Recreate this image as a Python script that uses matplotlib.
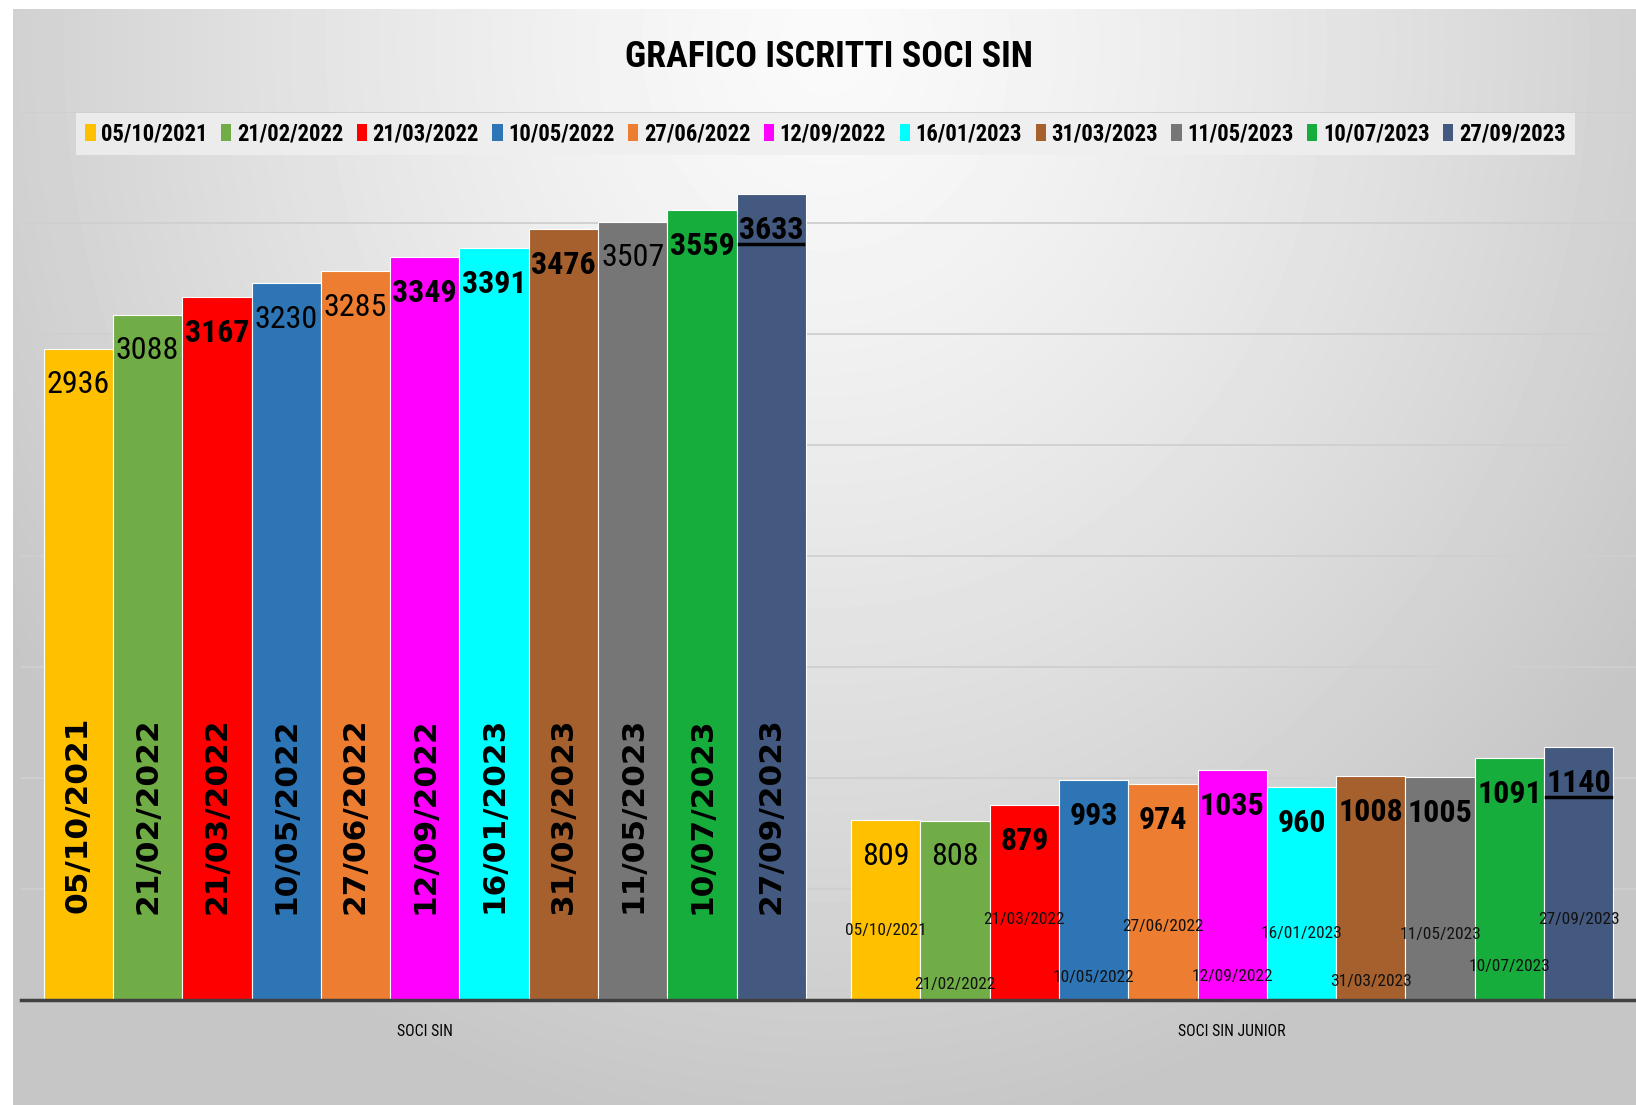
import matplotlib

matplotlib.use("Agg")

import matplotlib.pyplot as plt
import numpy as np
from matplotlib import font_manager
from matplotlib.lines import Line2D
from matplotlib.patches import Patch


OUTPUT_PNG = "out.png"

# data
CATEGORIES = ["SOCI SIN", "SOCI SIN JUNIOR"]
DATES = [
    "05/10/2021", "21/02/2022", "21/03/2022", "10/05/2022", "27/06/2022",
    "12/09/2022", "16/01/2023", "31/03/2023", "11/05/2023", "10/07/2023",
    "27/09/2023",
]
SOCI_SIN = [2936, 3088, 3167, 3230, 3285, 3349, 3391, 3476, 3507, 3559, 3633]
SOCI_SIN_JUNIOR = [809, 808, 879, 993, 974, 1035, 960, 1008, 1005, 1091, 1140]

COLORS = [
    "#FFC000", "#70AD47", "#FF0000", "#2E75B6", "#ED7D31", "#FF00FF",
    "#00FFFF", "#A5602E", "#767676", "#17AD3C", "#44597F",
]

# label styling / layout (not data)
SIN_BOLD = [False, False, True, False, False, True, True, True, False, True, True]
JUNIOR_BOLD = [False, False, True, True, True, True, True, True, True, True, True]
JUNIOR_DATE_RISE_PT = [50, 11, 58, 16, 53, 17, 48, 13, 47, 24, 58]

installed = {f.name for f in font_manager.fontManager.ttflist}
NARROW_NAME = next(
    (n for n in ["Liberation Sans Narrow", "Roboto Condensed", "Open Sans Condensed",
                 "Roboto", "Liberation Sans"] if n in installed),
    "DejaVu Sans",
)
NARROW = [NARROW_NAME, "DejaVu Sans"]
WIDE_BOLD = ["DejaVu Sans"]
is_condensed = "Narrow" in NARROW_NAME or "Condensed" in NARROW_NAME
SCALE = 1.0 if is_condensed else 0.8


def draw_background(fig):
    bg = fig.add_axes([13 / 1636, 0, 1 - 13 / 1636, 1 - 9 / 1105], zorder=-10)
    h, w = 300, 450
    yy, xx = np.mgrid[0:h, 0:w]
    r = np.sqrt(((xx - 0.5 * w) / (0.6 * w)) ** 2 + ((yy - 0.03 * h) / (1.0 * h)) ** 2)
    shade = 250 - 52 * np.clip(r, 0, 1) ** 1.3
    bg.imshow(shade, cmap="gray", vmin=0, vmax=255, aspect="auto",
              interpolation="bilinear")
    bg.axis("off")


def main():
    fig = plt.figure(figsize=(16.36, 11.05), dpi=100)
    fig.patch.set_facecolor("white")
    draw_background(fig)

    ax = fig.add_axes([21 / 1636, 105 / 1105, 1 - 21 / 1636, (1000 - 112.4) / 1105])
    ax.patch.set_alpha(0)

    n = len(DATES)
    width = 0.944 / n
    group_values = [SOCI_SIN, SOCI_SIN_JUNIOR]
    underlined = []

    for i, (date, color) in enumerate(zip(DATES, COLORS)):
        xs = np.arange(len(CATEGORIES)) + (i - (n - 1) / 2) * width
        vals = [g[i] for g in group_values]
        ax.bar(xs, vals, width=width, color=color, edgecolor="white",
               linewidth=0.8, label=date, zorder=3)

        # value labels, inside end
        for j, (x, v) in enumerate(zip(xs, vals)):
            bold = SIN_BOLD[i] if j == 0 else JUNIOR_BOLD[i]
            t = ax.annotate(str(v), (x, v), xytext=(0, -26), textcoords="offset points",
                            ha="center", va="center", fontsize=23 * SCALE,
                            fontweight="bold" if bold else "normal",
                            family=NARROW, color="black", zorder=5)
            if i == n - 1:
                underlined.append(t)

        # rotated date labels in the first group
        ax.annotate(date, (xs[0], 0), xytext=(0, 133), textcoords="offset points",
                    ha="center", va="center", rotation=90, fontsize=22.5,
                    fontweight="bold", family=WIDE_BOLD, color="black", zorder=5)

        # small date labels in the junior group
        ax.annotate(date, (xs[1], 0), xytext=(0, JUNIOR_DATE_RISE_PT[i]),
                    textcoords="offset points", ha="center", va="center",
                    fontsize=12.5 * SCALE, family=NARROW, color="#111111", zorder=5)

    ax.set_xlim(-0.5, 1.5)
    ax.set_ylim(0, 4000)
    ax.set_yticks(np.arange(0, 4001, 500))
    ax.set_yticklabels([])
    ax.tick_params(axis="y", length=0)
    ax.grid(axis="y", color="#cfcfcf", linewidth=1.3, zorder=0)
    ax.set_axisbelow(True)

    ax.set_xticks(range(len(CATEGORIES)))
    ax.set_xticklabels(CATEGORIES, family=NARROW, fontsize=11.3 * SCALE)
    ax.tick_params(axis="x", length=0, pad=17)

    for side in ["top", "right", "left"]:
        ax.spines[side].set_visible(False)
    ax.spines["bottom"].set_color("#404040")
    ax.spines["bottom"].set_linewidth(2.5)
    ax.spines["bottom"].set_zorder(4)

    handles = [Patch(facecolor=c, edgecolor="none") for c in COLORS]
    leg = fig.legend(
        handles, DATES, loc="center", bbox_to_anchor=(825.5 / 1636, 1 - 134 / 1105),
        ncol=n, prop={"family": NARROW, "size": 16.25 * SCALE, "weight": "bold"},
        handlelength=0.45, handleheight=0.8, handletextpad=0.25, columnspacing=0.6,
        frameon=True, fancybox=False, borderpad=0.4,
    )
    leg.get_frame().set_facecolor("#efefef")
    leg.get_frame().set_edgecolor("none")
    leg.get_frame().set_alpha(0.85)

    fig.text(829 / 1636, 1 - 57 / 1105, "GRAFICO ISCRITTI SOCI SIN",
             ha="center", va="center", fontsize=26 * SCALE, fontweight="bold",
             family=NARROW)

    # underline the latest values
    fig.canvas.draw()
    renderer = fig.canvas.get_renderer()
    inv = fig.transFigure.inverted()
    for t in underlined:
        bb = t.get_window_extent(renderer)
        (x0, y0), (x1, _) = inv.transform([(bb.x0, bb.y0 + 1), (bb.x1, bb.y0)])
        fig.add_artist(Line2D([x0, x1], [y0, y0], transform=fig.transFigure,
                              color="black", linewidth=2.5, zorder=6))

    fig.savefig(OUTPUT_PNG, dpi=100)
    plt.close(fig)


if __name__ == "__main__":
    main()
